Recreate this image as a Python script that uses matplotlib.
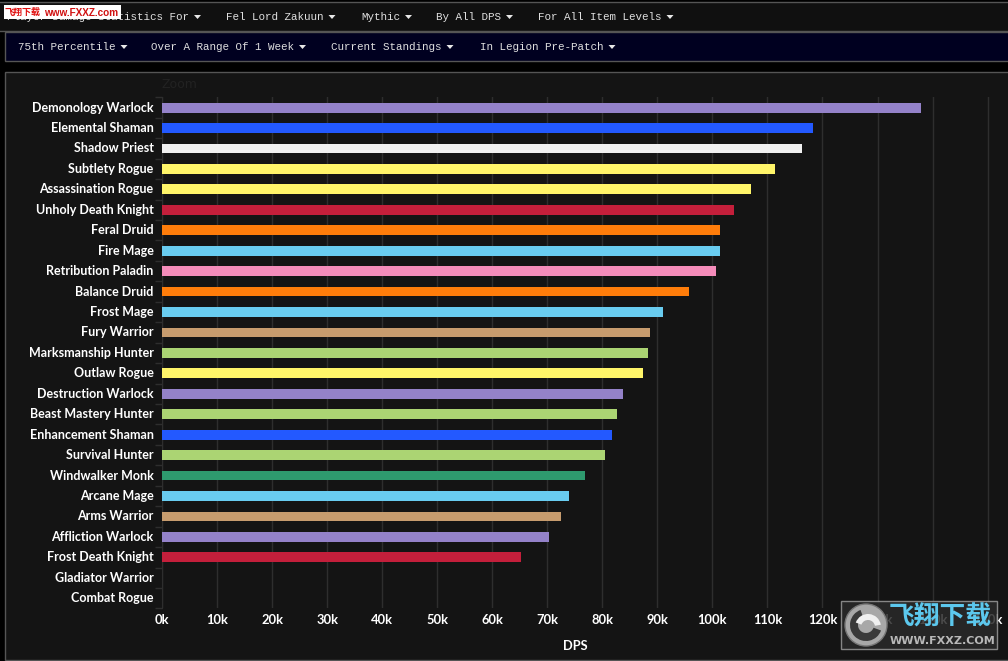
import matplotlib
matplotlib.use("Agg")
import matplotlib.pyplot as plt
from matplotlib.patches import Rectangle, Polygon, Circle, Wedge

W, H = 1008, 661
specs = ["Demonology Warlock", "Elemental Shaman", "Shadow Priest", "Subtlety Rogue",
         "Assassination Rogue", "Unholy Death Knight", "Feral Druid", "Fire Mage",
         "Retribution Paladin", "Balance Druid", "Frost Mage", "Fury Warrior",
         "Marksmanship Hunter", "Outlaw Rogue", "Destruction Warlock", "Beast Mastery Hunter",
         "Enhancement Shaman", "Survival Hunter", "Windwalker Monk", "Arcane Mage",
         "Arms Warrior", "Affliction Warlock", "Frost Death Knight", "Gladiator Warrior",
         "Combat Rogue"]
dps = [137.9, 118.3, 116.3, 111.4, 107.0, 103.9, 101.4, 101.3, 100.6, 95.8, 91.0, 88.7,
       88.3, 87.4, 83.8, 82.7, 81.8, 80.5, 76.9, 74.0, 72.5, 70.3, 65.2, 0, 0]
PUR, BLU, WHT, YEL, RED, ORG, CYA, PNK, TAN, GRN, TEA = ("#9482c9", "#2359ff", "#f0f0f0", "#fff569",
    "#c41f3b", "#ff7d0a", "#69ccf0", "#f58cba", "#c79c6e", "#abd473", "#2e9a6e")
colors = [PUR, BLU, WHT, YEL, YEL, RED, ORG, CYA, PNK, ORG, CYA, TAN, GRN, YEL, PUR, GRN, BLU,
          GRN, TEA, CYA, TAN, PUR, RED, TAN, YEL]
xticks = list(range(0, 151, 10))
row1 = [("Player Damage Statistics For", 7), ("Fel Lord Zakuun", 226), ("Mythic", 361),
        ("By All DPS", 436), ("For All Item Levels", 538)]
row2 = [("75th Percentile", 18), ("Over A Range Of 1 Week", 151), ("Current Standings", 331),
        ("In Legion Pre-Patch", 480)]
LABEL_FONT = "Lato"

fig = plt.figure(figsize=(W / 100, H / 100), dpi=100, facecolor="#000000")
bg = fig.add_axes([0, 0, 1, 1], zorder=0)
bg.set_xlim(0, W); bg.set_ylim(H, 0); bg.axis("off")

def panel(x0, y0, x1, y1, fc, ec="#555555"):
    bg.add_patch(Rectangle((x0, y0), x1 - x0, y1 - y0, fc=fc, ec=ec, lw=1))

panel(-2, 2, W + 2, 31, "#101010")
panel(5, 32, W + 2, 61, "#000020")
panel(5, 72, W + 2, H - 1, "#141414")

for row, y in ((row1, 17), (row2, 47)):
    for label, x in row:
        bg.text(x, y, label, color="#e0e0e0", fontsize=7.8, family="Liberation Mono",
                va="center", ha="left")
        xe = x + len(label) * 6.5 + 5
        bg.add_patch(Polygon([(xe, y - 2), (xe + 7, y - 2), (xe + 3.5, y + 2)], fc="#e8e8e8", ec="none"))
bg.text(162, 84, "Zoom", color="#222222", fontsize=9, va="center", ha="left")

# chart
ax = fig.add_axes([162 / W, 1 - 608.4 / H, (1003 - 162) / W, (608 - 97) / H], zorder=1)
ax.set_facecolor("none")
pos = list(range(len(specs)))
ax.barh(pos, dps, height=0.48, color=colors, zorder=3)
ax.set_ylim(len(specs) - 0.5, -0.5)
ax.set_xlim(0, 841 / 5.504)
ax.set_xticks(xticks)
ax.set_xticklabels([f"{v}k" for v in xticks], color="#ffffff", fontsize=9.3, family=LABEL_FONT, fontweight="bold")
ax.set_yticks(pos)
ax.set_yticklabels(specs, color="#ffffff", fontsize=9.0, family=LABEL_FONT, fontweight="bold", va="center")
ax.set_yticks([p - 0.5 for p in pos] + [len(specs) - 0.5], minor=True)
ax.tick_params(axis="x", which="major", length=0, pad=4)
ax.tick_params(axis="y", which="major", length=0, pad=6)
ax.tick_params(axis="y", which="minor", length=5, color="#2e2e2e", width=1)
ax.grid(axis="x", color="#2e2e2e", lw=1, zorder=0)
for s in ("top", "right", "bottom"):
    ax.spines[s].set_visible(False)
ax.spines["left"].set_color("#2e2e2e")
ax.set_xlabel("DPS", color="#ffffff", fontsize=9.3, fontweight="bold", family=LABEL_FONT)
ax.xaxis.set_label_coords(((575 - 162) / 841), -0.062)

# overlays (site watermarks)
ov = fig.add_axes([0, 0, 1, 1], zorder=5)
ov.set_xlim(0, W); ov.set_ylim(H, 0); ov.axis("off"); ov.patch.set_alpha(0)
ov.add_patch(Rectangle((4, 5), 117, 14, fc="#ffffff", ec="none"))
ov.text(5, 12.5, "飞翔下载", color="#e01010", fontsize=6.5, family="Noto Sans CJK SC", va="center", fontweight="bold")
ov.text(44, 12.5, "www.FXXZ.com", color="#d01010", fontsize=7.2, va="center", family="Liberation Sans", fontweight="bold")
ov.add_patch(Rectangle((841, 601), 156, 48, fc="#2a2a2a", ec="#999999", lw=1, alpha=0.85))
ov.add_patch(Circle((866, 625), 21, fc="#a8a8a8", ec="#777777"))
ov.add_patch(Wedge((866, 625), 16, 20, 250, width=8, fc="#3a3a3a", ec="none"))
ov.add_patch(Wedge((868, 627), 13, 200, 350, width=6, fc="#f0f0f0", ec="none"))
ov.text(940, 617.5, "飞翔下载", color="#5cc8ee", fontsize=18.5, family="Noto Sans CJK SC", fontweight="bold", ha="center", va="center")
ov.text(943, 641, "WWW.FXXZ.COM", color="#b8b8b8", fontsize=8, family="DejaVu Sans", fontweight="bold", ha="center", va="center")

fig.savefig("out.png", dpi=100, facecolor=fig.get_facecolor())
